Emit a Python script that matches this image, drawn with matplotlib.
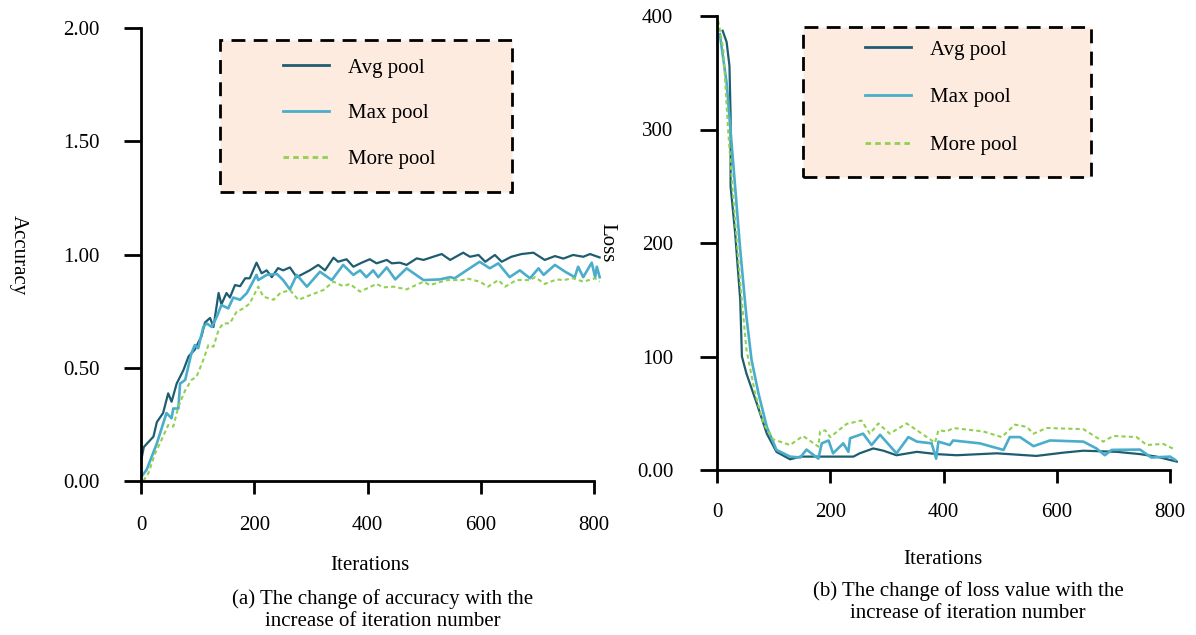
import numpy as np
import matplotlib
matplotlib.use("Agg")
import matplotlib.pyplot as plt
from matplotlib.patches import Rectangle

plt.rcParams['font.family'] = ['Liberation Serif', 'DejaVu Serif']

# ---- accuracy panel data ----
acc_avg_x = [1, 5, 22, 28, 39, 48, 54, 63, 75, 84, 95, 107, 113, 122, 128, 137, 142, 151, 157, 166,
             175, 184, 192, 204, 213, 222, 231, 242, 251, 263, 275, 298, 313, 325, 340, 348, 363, 375,
             390, 404, 416, 434, 443, 457, 469, 487, 499, 516, 531, 546, 569, 581, 596, 608, 625, 637,
             654, 672, 693, 713, 731, 746, 763, 781, 793, 810]
acc_avg_y = [0.10, 0.15, 0.196, 0.26, 0.30, 0.387, 0.35, 0.43, 0.49, 0.55, 0.58, 0.64, 0.70, 0.72, 0.68,
             0.83, 0.78, 0.83, 0.81, 0.865, 0.86, 0.895, 0.895, 0.964, 0.917, 0.93, 0.90, 0.94, 0.93,
             0.943, 0.90, 0.93, 0.954, 0.93, 0.986, 0.968, 0.979, 0.946, 0.964, 0.979, 0.961, 0.976,
             0.961, 0.964, 0.954, 0.983, 0.976, 0.99, 1.002, 0.976, 1.008, 0.99, 0.998, 0.968, 0.998,
             0.968, 0.99, 1.002, 1.008, 0.976, 0.993, 0.982, 0.998, 0.99, 1.002, 0.987]

acc_max_x = [1, 10, 28, 45, 54, 57, 66, 69, 78, 89, 95, 101, 110, 116, 125, 134, 142, 154, 163, 175,
             187, 204, 207, 222, 240, 251, 263, 275, 293, 316, 337, 357, 375, 387, 398, 410, 419, 434,
             449, 469, 499, 528, 546, 554, 575, 598, 616, 631, 651, 669, 687, 702, 711, 731, 749, 766,
             772, 781, 796, 802, 805, 810]
acc_max_y = [0.02, 0.05, 0.166, 0.30, 0.277, 0.32, 0.32, 0.43, 0.446, 0.564, 0.60, 0.586, 0.68, 0.696,
             0.68, 0.726, 0.777, 0.762, 0.81, 0.80, 0.83, 0.91, 0.887, 0.91, 0.914, 0.887, 0.846, 0.91,
             0.858, 0.924, 0.887, 0.954, 0.91, 0.93, 0.90, 0.93, 0.90, 0.943, 0.89, 0.939, 0.887, 0.89,
             0.90, 0.895, 0.93, 0.968, 0.939, 0.961, 0.90, 0.93, 0.895, 0.939, 0.91, 0.954, 0.924, 0.90,
             0.946, 0.90, 0.964, 0.90, 0.946, 0.90]

acc_more_x = [4, 13, 25, 36, 48, 57, 66, 78, 89, 98, 110, 119, 128, 137, 145, 157, 169, 181, 192, 207,
              216, 234, 246, 263, 278, 298, 322, 340, 357, 369, 387, 416, 428, 446, 469, 499, 510, 540,
              569, 575, 598, 613, 631, 643, 663, 687, 696, 713, 734, 746, 763, 781, 802, 810]
acc_more_y = [0.0, 0.034, 0.122, 0.18, 0.247, 0.24, 0.328, 0.40, 0.446, 0.46, 0.534, 0.60, 0.593, 0.667,
              0.696, 0.696, 0.748, 0.762, 0.784, 0.858, 0.814, 0.80, 0.83, 0.843, 0.80, 0.82, 0.843,
              0.88, 0.86, 0.87, 0.836, 0.87, 0.855, 0.858, 0.846, 0.88, 0.865, 0.887, 0.887, 0.895,
              0.88, 0.858, 0.887, 0.858, 0.887, 0.887, 0.90, 0.87, 0.89, 0.887, 0.895, 0.88, 0.895, 0.88]

# ---- loss panel data ----
loss_avg_x = [10, 17, 22, 24, 24, 32, 41, 44, 52, 70, 88, 105, 129, 147, 188, 241, 252, 276, 294, 317,
              353, 388, 423, 494, 564, 612, 647, 706, 747, 776, 812]
loss_avg_y = [387, 377, 356, 312, 250, 209, 150, 100, 85, 59, 32, 16, 9.4, 11.8, 11.8, 11.8, 14.7, 19,
              17, 13, 16, 14, 13, 14.7, 12.4, 15.3, 17, 16, 14, 11.8, 7.4]

loss_max_x = [5, 17, 29, 41, 52, 61, 73, 88, 105, 129, 147, 158, 179, 185, 197, 205, 223, 232, 235, 258,
              273, 288, 317, 338, 353, 379, 387, 391, 411, 417, 464, 506, 517, 535, 559, 588, 647, 670,
              685, 697, 747, 767, 800, 809]
loss_max_y = [384, 341, 268, 194, 135, 97, 68, 38, 17.7, 11.8, 11, 18, 10, 23.5, 26, 14.7, 23.5, 16, 28,
              32, 22, 31, 14.7, 29, 25, 23.5, 10, 25, 22, 26, 23.5, 17.7, 29, 29, 21, 26, 25, 19, 13,
              17.7, 18, 11, 11.8, 9]

loss_more_x = [2, 11, 20, 29, 41, 52, 67, 82, 99, 129, 152, 179, 182, 191, 200, 229, 255, 270, 285, 305,
               335, 353, 385, 391, 406, 417, 470, 503, 526, 547, 559, 582, 647, 682, 700, 741, 759, 788,
               809]
loss_more_y = [396, 371, 297, 238, 165, 106, 68, 41, 27, 22, 30, 20.6, 34, 35, 29, 40.6, 43.6, 32, 41,
               32, 41, 35, 24, 35, 34, 37, 34, 29, 40, 38, 32, 37, 36, 25, 30, 29, 22, 23, 18]

series_names = ['Avg pool', 'Max pool', 'More pool']
acc_ticks = [0, 0.5, 1.0, 1.5, 2.0]
acc_ticklabels = ['0.00', '0.50', '1.00', '1.50', '2.00']
loss_ticks = [0, 100, 200, 300, 400]
loss_ticklabels = ['0.00', '100', '200', '300', '400']
x_ticks = [0, 200, 400, 600, 800]

c_avg = '#1e5d70'
c_max = '#4aadcb'
c_more = '#92d050'

W, H = 1196, 635
fig = plt.figure(figsize=(W / 100, H / 100), dpi=100)


def fx(px):
    return px / W


def fy(py):
    return 1 - py / H


ax1 = fig.add_axes([fx(141), fy(481), fx(594) - fx(141), fy(28) - fy(481)])
ax2 = fig.add_axes([fx(717), fy(470), fx(1170) - fx(717), fy(16) - fy(470)])

panels = [
    (ax1, [acc_avg_x, acc_max_x, acc_more_x], [acc_avg_y, acc_max_y, acc_more_y],
     (0, 2), acc_ticks, acc_ticklabels, 18, 16),
    (ax2, [loss_avg_x, loss_max_x, loss_more_x], [loss_avg_y, loss_max_y, loss_more_y],
     (0, 400), loss_ticks, loss_ticklabels, 19.5, 14.5),
]

for ax, xs, ys, ylim, yt, ytl, ypad, xpad in panels:
    ax.patch.set_visible(False)
    ax.plot(xs[0], ys[0], color=c_avg, lw=1.6, clip_on=False, label=series_names[0])
    ax.plot(xs[1], ys[1], color=c_max, lw=1.9, clip_on=False, label=series_names[1])
    ax.plot(xs[2], ys[2], color=c_more, lw=1.5, ls=(0, (2, 1.5)), clip_on=False,
            label=series_names[2])
    ax.set_xlim(0, 800)
    ax.set_ylim(*ylim)
    ax.set_xticks(x_ticks)
    ax.set_yticks(yt)
    ax.set_yticklabels(ytl)
    for s in ['top', 'right']:
        ax.spines[s].set_visible(False)
    for s in ['left', 'bottom']:
        ax.spines[s].set_linewidth(2)
    ax.tick_params(axis='y', length=12, width=2, labelsize=15, pad=ypad)
    ax.tick_params(axis='x', length=9, width=2, labelsize=15, pad=xpad)

# legend boxes
for (x0, y0, x1, y1) in [(220, 40, 512, 192), (803, 27, 1091, 177)]:
    fig.patches.append(Rectangle((fx(x0), fy(y1)), fx(x1) - fx(x0), fy(y0) - fy(y1),
                                 transform=fig.transFigure, facecolor='#fdebdf',
                                 edgecolor='black', lw=2, ls=(0, (5, 3)), zorder=-1))

for ax, hx, ty, sp in [(ax1, 283, 58, 1.25), (ax2, 865, 40, 1.35)]:
    leg = ax.legend(loc='upper left', bbox_to_anchor=(fx(hx), fy(ty)),
                    bbox_transform=fig.transFigure, frameon=False, fontsize=15, borderpad=0,
                    borderaxespad=0, handlelength=2.2, handletextpad=0.9, labelspacing=sp)
    for ln in leg.get_lines():
        ln.set_linewidth(2)

fig.text(fx(18), fy(255), 'Accuracy', rotation=-90, ha='center', va='center', fontsize=15)
fig.text(fx(607), fy(243), 'Loss', rotation=-90, ha='center', va='center', fontsize=15)
fig.text(fx(370), fy(565), 'Iterations', ha='center', va='center', fontsize=15)
fig.text(fx(943), fy(560), 'Iterations', ha='center', va='center', fontsize=15)
fig.text(fx(383), fy(610), '(a) The change of accuracy with the\nincrease of iteration number',
         ha='center', va='center', fontsize=15, linespacing=1.25)
fig.text(fx(968), fy(602), '(b) The change of loss value with the\nincrease of iteration number',
         ha='center', va='center', fontsize=15, linespacing=1.25)

fig.savefig('out.png', dpi=100)
